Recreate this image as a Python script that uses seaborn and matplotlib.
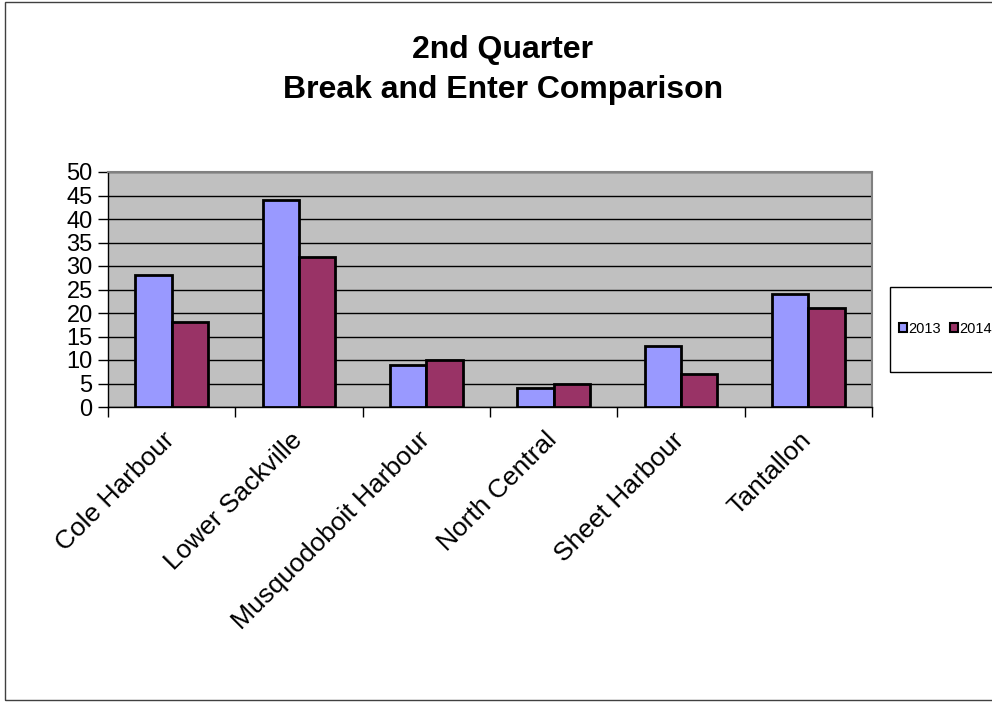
import numpy as np
import pandas as pd
import matplotlib.pyplot as plt
import matplotlib.transforms as mtransforms
import seaborn as sns
from matplotlib.patches import Rectangle

# Chart data
areas = ['Cole Harbour', 'Lower Sackville', 'Musquodoboit Harbour',
         'North Central', 'Sheet Harbour', 'Tantallon']
counts_2013 = [28, 44, 9, 4, 13, 24]
counts_2014 = [18, 32, 10, 5, 7, 21]
years = ['2013', '2014']
y_ticks = list(range(0, 55, 5))

df = pd.DataFrame({
    'Area': areas * 2,
    'Count': counts_2013 + counts_2014,
    'Year': [years[0]] * len(areas) + [years[1]] * len(areas),
})

sns.set_style('white')
plt.rcParams['font.family'] = ['Liberation Sans', 'DejaVu Sans']
plt.rcParams['text.color'] = 'black'
plt.rcParams['xtick.color'] = 'black'
plt.rcParams['ytick.color'] = 'black'
plt.rcParams['axes.labelcolor'] = 'black'

fig = plt.figure(figsize=(9.92, 7.02), dpi=100)
ax = fig.add_axes([108 / 992, 1 - 407 / 702, (872 - 108) / 992, (407 - 172) / 702])
ax.set_facecolor('#C0C0C0')

sns.barplot(data=df, x='Area', y='Count', hue='Year', ax=ax,
            palette=['#9999FF', '#993366'], edgecolor='black',
            linewidth=2, width=0.57, saturation=1, zorder=3)

# gridlines
ax.set_ylim(0, 50)
ax.set_yticks(y_ticks)
ax.yaxis.grid(True, color='black', linewidth=1, zorder=1)
ax.set_axisbelow(True)
ax.set_xlim(-0.5, len(areas) - 0.5)

# ticks
ax.tick_params(axis='y', which='major', labelsize=17, length=7, width=1,
               direction='out', left=True, color='black', labelcolor='black', pad=4)
ax.set_xticks(range(len(areas)))
ax.set_xticklabels(areas, rotation=45, ha='right', rotation_mode='anchor', fontsize=19)
ax.tick_params(axis='x', which='major', length=0, pad=15, labelcolor='black')
shift = mtransforms.ScaledTranslation(-9 / 100, 0, fig.dpi_scale_trans)
for lbl in ax.get_xticklabels():
    lbl.set_transform(lbl.get_transform() + shift)
ax.set_xticks(np.arange(-0.5, len(areas), 1), minor=True)
ax.tick_params(axis='x', which='minor', length=7, width=1, direction='out',
               bottom=True, color='black')
ax.set_xlabel('')
ax.set_ylabel('')

for side in ['top', 'right']:
    ax.spines[side].set_color('#808080')
    ax.spines[side].set_linewidth(1.5)
for side in ['left', 'bottom']:
    ax.spines[side].set_color('black')
    ax.spines[side].set_linewidth(1)

# legend
ax.get_legend().remove()
handles = [Rectangle((0, 0), 1, 1, facecolor=c, edgecolor='black', linewidth=1.5)
           for c in ['#9999FF', '#993366']]
fig.legend(handles, years, loc='center left',
           bbox_to_anchor=(899 / 992, 1 - 329 / 702), ncol=2, fontsize=10.5,
           frameon=False, handlelength=0.55, handleheight=0.55, handletextpad=0.1,
           columnspacing=0.6, borderpad=0, borderaxespad=0, labelcolor='black')
fig.patches.append(Rectangle((890 / 992, 1 - 372 / 702), 0.2, 85 / 702,
                             transform=fig.transFigure, fill=False,
                             edgecolor='black', linewidth=1))

# title
fig.text(503 / 992, 1 - 70 / 702, '2nd Quarter\nBreak and Enter Comparison',
         ha='center', va='center', fontsize=23, fontweight='bold',
         linespacing=1.45, color='black')

# outer border
fig.patches.append(Rectangle((5 / 992, 2 / 702), 1.2, 1 - 4 / 702,
                             transform=fig.transFigure, fill=False,
                             edgecolor='#404040', linewidth=1))

fig.savefig('out.png', dpi=100)
